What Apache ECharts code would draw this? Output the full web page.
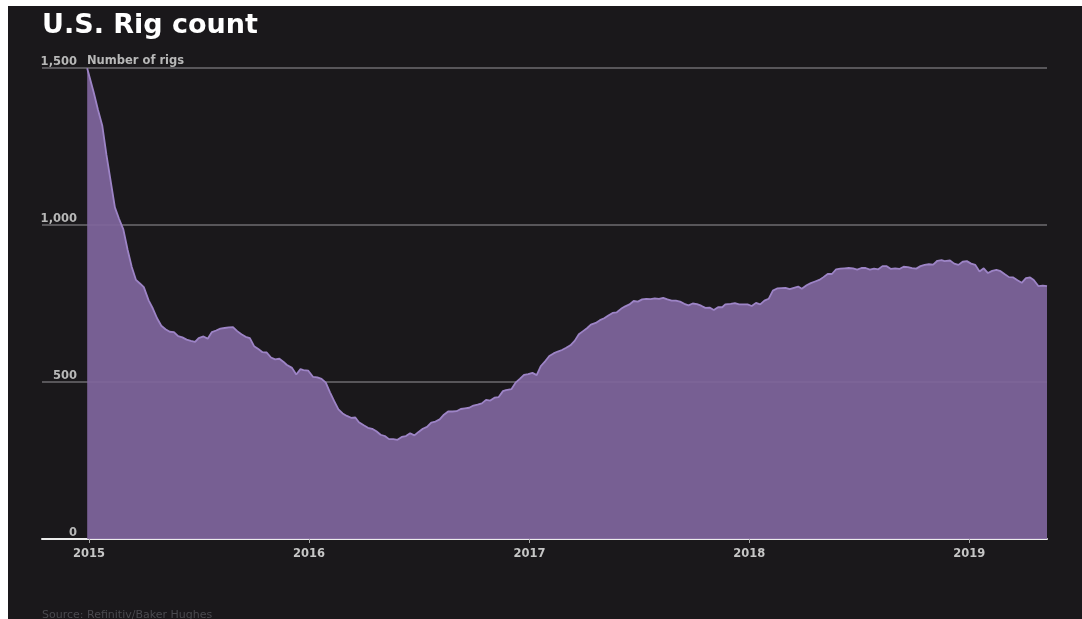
<!DOCTYPE html>
<html>
<head>
<meta charset="utf-8">
<script src="https://cdn.jsdelivr.net/npm/echarts@6/dist/echarts.min.js"></script>
<style>
html,body{margin:0;padding:0;background:#ffffff;width:1082px;height:619px;overflow:hidden;}
#chart{position:absolute;left:8px;top:6px;width:1074px;height:613px;background:#1a181b;}
</style>
</head>
<body>
<div id="chart"></div>
<script>
// ---- data (U.S. oil rig count, weekly) ----
const weekDates = [
'2014-12-29','2015-01-09','2015-01-16','2015-01-23','2015-01-30','2015-02-06','2015-02-13','2015-02-20','2015-02-27',
'2015-03-06','2015-03-13','2015-03-20','2015-03-27','2015-04-02','2015-04-10','2015-04-17','2015-04-24',
'2015-05-01','2015-05-08','2015-05-15','2015-05-22','2015-05-29','2015-06-05','2015-06-12','2015-06-19','2015-06-26',
'2015-07-02','2015-07-10','2015-07-17','2015-07-24','2015-07-31','2015-08-07','2015-08-14','2015-08-21','2015-08-28',
'2015-09-04','2015-09-11','2015-09-18','2015-09-25','2015-10-02','2015-10-09','2015-10-16','2015-10-23','2015-10-30',
'2015-11-06','2015-11-13','2015-11-20','2015-11-25','2015-12-04','2015-12-11','2015-12-18','2015-12-23','2015-12-31',
'2016-01-08','2016-01-15','2016-01-22','2016-01-29','2016-02-05','2016-02-12','2016-02-19','2016-02-26',
'2016-03-04','2016-03-11','2016-03-18','2016-03-24','2016-04-01','2016-04-08','2016-04-15','2016-04-22','2016-04-29',
'2016-05-06','2016-05-13','2016-05-20','2016-05-27','2016-06-03','2016-06-10','2016-06-17','2016-06-24',
'2016-07-01','2016-07-08','2016-07-15','2016-07-22','2016-07-29','2016-08-05','2016-08-12','2016-08-19','2016-08-26',
'2016-09-02','2016-09-09','2016-09-16','2016-09-23','2016-09-30','2016-10-07','2016-10-14','2016-10-21','2016-10-28',
'2016-11-04','2016-11-11','2016-11-18','2016-11-23','2016-12-02','2016-12-09','2016-12-16','2016-12-23','2016-12-30',
'2017-01-06','2017-01-13','2017-01-20','2017-01-27','2017-02-03','2017-02-10','2017-02-17','2017-02-24',
'2017-03-03','2017-03-10','2017-03-17','2017-03-24','2017-03-31','2017-04-07','2017-04-13','2017-04-21','2017-04-28',
'2017-05-05','2017-05-12','2017-05-19','2017-05-26','2017-06-02','2017-06-09','2017-06-16','2017-06-23','2017-06-30',
'2017-07-07','2017-07-14','2017-07-21','2017-07-28','2017-08-04','2017-08-11','2017-08-18','2017-08-25',
'2017-09-01','2017-09-08','2017-09-15','2017-09-22','2017-09-29','2017-10-06','2017-10-13','2017-10-20','2017-10-27',
'2017-11-03','2017-11-10','2017-11-17','2017-11-22','2017-12-01','2017-12-08','2017-12-15','2017-12-22','2017-12-29',
'2018-01-05','2018-01-12','2018-01-19','2018-01-26','2018-02-02','2018-02-09','2018-02-16','2018-02-23',
'2018-03-02','2018-03-09','2018-03-16','2018-03-23','2018-03-29','2018-04-06','2018-04-13','2018-04-20','2018-04-27',
'2018-05-04','2018-05-11','2018-05-18','2018-05-25','2018-06-01','2018-06-08','2018-06-15','2018-06-22','2018-06-29',
'2018-07-06','2018-07-13','2018-07-20','2018-07-27','2018-08-03','2018-08-10','2018-08-17','2018-08-24','2018-08-31',
'2018-09-07','2018-09-14','2018-09-21','2018-09-28','2018-10-05','2018-10-12','2018-10-19','2018-10-26',
'2018-11-02','2018-11-09','2018-11-16','2018-11-21','2018-11-30','2018-12-07','2018-12-14','2018-12-21','2018-12-28',
'2019-01-04','2019-01-11','2019-01-18','2019-01-25','2019-02-01','2019-02-08','2019-02-15','2019-02-22',
'2019-03-01','2019-03-08','2019-03-15','2019-03-22','2019-03-29','2019-04-05','2019-04-12','2019-04-18','2019-04-26',
'2019-05-03','2019-05-10'
];
const rigCounts = [
1499,1421,1366,1317,1223,1140,1056,1019,986,
922,866,825,813,802,760,734,703,
679,668,660,659,646,642,635,631,628,
640,645,638,659,664,670,672,674,675,
662,652,644,640,614,605,595,594,578,
572,574,564,555,545,524,541,538,536,
516,515,510,498,467,439,413,400,
392,386,387,372,362,354,351,343,332,
328,318,318,316,325,328,337,330,
341,351,357,371,374,381,396,406,406,
407,414,416,418,425,428,432,443,441,
450,452,471,474,477,498,510,523,525,
529,522,551,566,583,591,597,602,
609,617,631,652,662,672,683,688,697,
703,712,720,722,733,741,747,758,756,
763,765,764,766,765,768,763,759,
759,756,749,744,750,748,743,736,737,
729,738,738,747,749,751,747,747,747,
742,752,747,759,765,791,798,799,
800,796,800,804,797,808,815,820,825,
834,844,844,859,861,862,863,862,858,
863,863,858,861,859,869,869,860,862,
860,867,866,863,861,869,873,875,
874,886,888,885,887,877,873,883,885,
877,873,852,862,847,854,857,853,
843,834,833,824,816,831,833,825,805,
807,805
];
const yearTicks = ['2015-01-01','2016-01-01','2017-01-01','2018-01-01','2019-01-01'];
const yTicks = [0, 500, 1000, 1500];
const axisStart = '2014-10-15';
const axisEnd = '2019-05-10';

function ts(s){ const p = s.split('-').map(Number); return Date.UTC(p[0], p[1]-1, p[2]); }
const seriesData = weekDates.map((d,i)=>[ts(d), rigCounts[i]]);
const tickValues = yearTicks.map(ts);
function fmtNum(v){ return String(v).replace(/\B(?=(\d{3})+(?!\d))/g, ','); }

const chart = echarts.init(document.getElementById('chart'), null, {renderer:'canvas'});
chart.setOption({
  animation:false,
  backgroundColor:'#1a181b',
  grid:{left:34, right:35, top:62, bottom:80, containLabel:false},
  xAxis:{
    type:'value',
    min:ts(axisStart), max:ts(axisEnd),
    axisLine:{show:true, onZero:false, lineStyle:{color:'#ececec', width:2}},
    axisTick:{show:true, customValues:tickValues, length:4, lineStyle:{color:'#aaaaaa', width:1}},
    axisLabel:{customValues:tickValues, color:'#c6c6c6', fontFamily:'DejaVu Sans', fontWeight:'bold', fontSize:11.5, margin:9,
      formatter:function(v){ return String(new Date(v).getUTCFullYear()); }},
    splitLine:{show:false},
    minorTick:{show:false}
  },
  yAxis:{
    type:'value', min:0, max:1500, interval:500,
    axisLine:{show:false}, axisTick:{show:false},
    axisLabel:{customValues:yTicks, inside:true, margin:35, align:'right', verticalAlign:'bottom', padding:[0,0,0,0],
      color:'#b8b8b8', fontFamily:'DejaVu Sans', fontWeight:'bold', fontSize:11.5,
      formatter:function(v){ return fmtNum(v); }},
    splitLine:{show:true, lineStyle:{color:'#58565a', width:2}}
  },
  series:[{
    type:'line',
    data:seriesData,
    symbol:'none',
    lineStyle:{color:'#9d84c6', width:1.8},
    areaStyle:{color:'#7f659c', opacity:0.93}
  }],
  graphic:[
    {type:'text', left:34, top:6, style:{text:'U.S. Rig count', fill:'#ffffff', font:'bold 27px "DejaVu Sans"'}},
    {type:'text', left:79, top:49, style:{text:'Number of rigs', fill:'#b8b8b8', font:'bold 11.5px "DejaVu Sans"'}},
    {type:'text', left:34, top:604, style:{text:'Source: Refinitiv/Baker Hughes', fill:'#4a4a4f', font:'11px "DejaVu Sans"'}}
  ]
});
</script>
</body>
</html>
